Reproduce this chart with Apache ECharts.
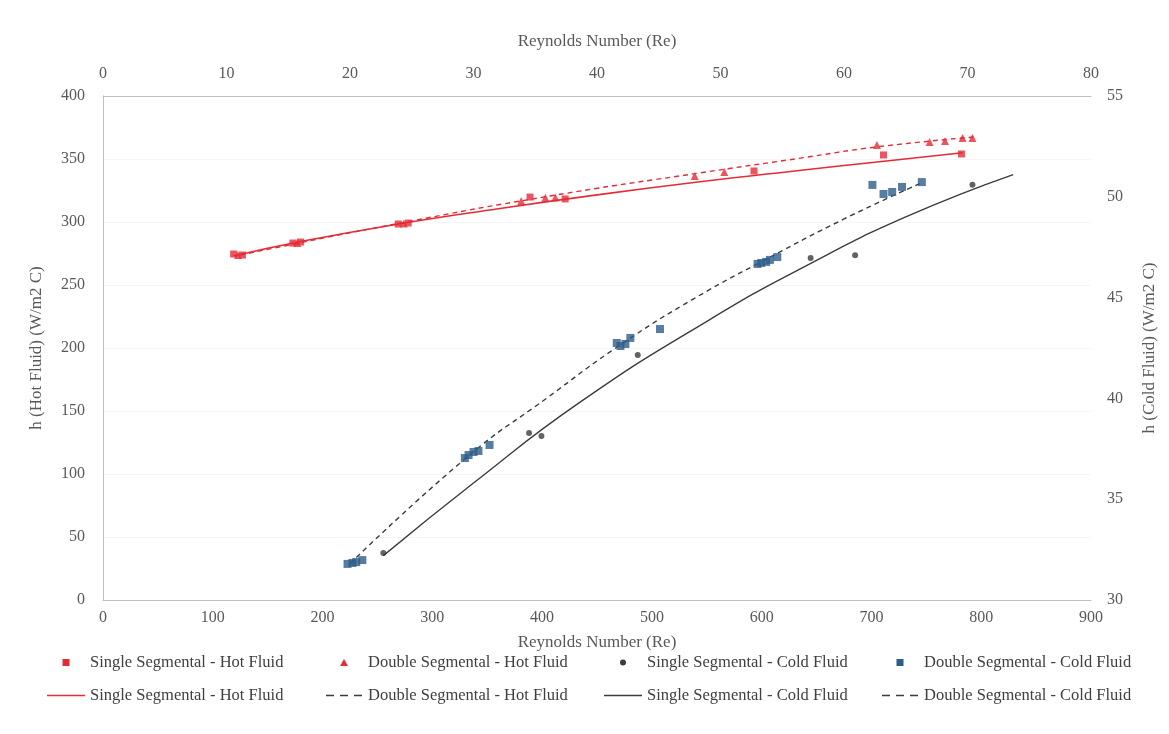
<!DOCTYPE html>
<html><head><meta charset="utf-8">
<script src="https://cdn.jsdelivr.net/npm/echarts@6/dist/echarts.min.js"></script>
<style>html,body{margin:0;padding:0;background:#fff}#c{width:1169px;height:734px}</style>
</head><body><div id="c"></div>
<script>
// ---- Hot fluid (bottom Reynolds axis 0-900, left h axis 0-400) ----
const singleHotRe = [119, 127, 173, 180, 269, 278, 389, 421, 593, 711, 782];
const singleHotH  = [274.6, 273.8, 283.3, 284.1, 298.4, 299.2, 319.8, 318.3, 340.5, 353.2, 354.0];
const doubleHotRe = [123, 177, 274, 381, 403, 412, 539, 566, 705, 753, 767, 783, 792];
const doubleHotH  = [273.8, 283.3, 298.8, 316.7, 319.2, 319.5, 336.5, 339.7, 361.1, 363.5, 364.3, 366.7, 366.7];
// trendlines
const singleHotFitRe = [119, 180, 270, 360, 450, 540, 630, 720, 783];
const singleHotFitH  = [273, 284.5, 298.5, 310.5, 321.5, 331.5, 340.5, 349, 355];
const doubleHotFitRe = [125, 270, 407, 544, 634, 704, 794];
const doubleHotFitH  = [273.8, 299, 320.6, 339, 350.5, 359.5, 367.5];

// ---- Cold fluid (top Reynolds axis 0-80, right h axis 30-55) ----
const singleColdRe = [22.7, 34.5, 35.5, 43.3, 57.3, 60.9, 70.4];
const singleColdH  = [32.33, 38.28, 38.13, 42.15, 46.96, 47.10, 50.60];
const doubleColdRe = [19.8, 20.2, 20.5, 21.0, 29.3, 29.6, 30.0, 30.4, 31.3, 41.6, 41.9, 42.3, 42.7, 45.1, 53.0, 53.3, 53.7, 54.0, 54.6, 62.3, 63.2, 63.9, 64.7, 66.3];
const doubleColdH  = [31.79, 31.84, 31.88, 31.98, 37.04, 37.19, 37.34, 37.39, 37.69, 42.75, 42.60, 42.70, 43.00, 43.44, 46.67, 46.72, 46.77, 46.87, 47.01, 50.59, 50.14, 50.24, 50.49, 50.73];
const singleColdFitRe = [22.7, 30, 38.6, 49.1, 57, 65, 73.7];
const singleColdFitH  = [32.2, 35.8, 39.8, 43.9, 46.6, 49.0, 51.1];
const doubleColdFitRe = [20.0, 29.5, 35.9, 42.0, 48, 54, 60, 66.3];
const doubleColdFitH  = [31.8, 37.1, 40.0, 42.7, 45.0, 47.0, 48.9, 50.7];

// axis ticks
const hotReTicks = {min: 0, max: 900, interval: 100};
const coldReTicks = {min: 0, max: 80, interval: 10};
const hotHTicks = {min: 0, max: 400, interval: 50};
const coldHTicks = {min: 30, max: 55, interval: 5};

const names = {
  sh: 'Single Segmental - Hot Fluid',
  dh: 'Double Segmental - Hot Fluid',
  sc: 'Single Segmental - Cold Fluid',
  dc: 'Double Segmental - Cold Fluid'
};

const zip = (a, b) => a.map((v, i) => [v, b[i]]);
const FONT = 'Liberation Serif';
const TXT = '#595959';
const RED = '#e52b36';
const GRAY = '#3c3c3c';
const BLUE = '#2d5d88';
const AXL = '#bfbfbf';

const chart = echarts.init(document.getElementById('c'), null, {renderer: 'canvas'});

const axisLabel = (m) => ({color: TXT, fontFamily: FONT, fontSize: 16, margin: m});
const nameStyle = {color: TXT, fontFamily: FONT, fontSize: 17};

// legend icons all share a 38x8 frame (tiny corner anchors fix the bounding box)
const A = 'M0,0h0.01v0.01h-0.01zM37.99,7.99h0.01v0.01h-0.01z';
const SQ = 'path://' + A + 'M15.5,0.5h7v7h-7z';
const TRI = 'path://' + A + 'M19,0.5L23,7.5L15,7.5z';
const DOT = 'path://' + A + 'M16,4a3,3 0 1,0 6,0a3,3 0 1,0 -6,0z';
const LINE = 'path://' + A + 'M0,3.3h38v1.4h-38z';
const DASH = 'path://' + A + 'M1,3.3h8v1.4h-8zM15,3.3h8v1.4h-8zM29,3.3h8v1.4h-8z';

function leg(name, icon, color, left, top) {
  return {
    data: [{name: name, icon: icon, itemStyle: {color: color, borderWidth: 0}}],
    left: left, top: top, itemWidth: 38, itemHeight: 8, itemGap: 0, padding: 0,
    selectedMode: false,
    textStyle: {color: '#404040', fontFamily: FONT, fontSize: 16.5}
  };
}
const row1 = 654, row2 = 687;

const option = {
  backgroundColor: '#fff',
  animation: false,
  grid: {left: 103, right: 78, top: 96, bottom: 134, containLabel: false},
  legend: [
    leg(names.sh, SQ, RED, 47, row1),
    leg(names.dh, TRI, RED, 325, row1),
    leg(names.sc, DOT, GRAY, 604, row1),
    leg(names.dc, SQ, BLUE, 881, row1),
    leg(names.sh, LINE, RED, 47, row2),
    leg(names.dh, DASH, GRAY, 325, row2),
    leg(names.sc, LINE, GRAY, 604, row2),
    leg(names.dc, DASH, GRAY, 881, row2)
  ],
  xAxis: [
    Object.assign({type: 'value', position: 'bottom', name: 'Reynolds Number (Re)', nameLocation: 'middle', nameGap: 34,
      nameTextStyle: nameStyle, axisLine: {show: true, lineStyle: {color: AXL}}, axisTick: {show: false},
      splitLine: {show: false}, axisLabel: axisLabel(10)}, hotReTicks),
    Object.assign({type: 'value', position: 'top', name: 'Reynolds Number (Re)', nameLocation: 'middle', nameGap: 46,
      nameTextStyle: nameStyle, axisLine: {show: true, lineStyle: {color: AXL}}, axisTick: {show: false},
      splitLine: {show: false}, axisLabel: axisLabel(14)}, coldReTicks)
  ],
  yAxis: [
    Object.assign({type: 'value', position: 'left', name: 'h (Hot Fluid) (W/m2 C)', nameLocation: 'middle', nameGap: 58, nameRotate: 90,
      nameTextStyle: nameStyle, axisLine: {show: true, lineStyle: {color: AXL}}, axisTick: {show: false},
      splitLine: {show: true, lineStyle: {color: '#f5f5f5'}}, axisLabel: axisLabel(18)}, hotHTicks),
    Object.assign({type: 'value', position: 'right', name: 'h (Cold Fluid) (W/m2 C)', nameLocation: 'middle', nameGap: 50, nameRotate: 90,
      nameTextStyle: nameStyle, axisLine: {show: true, lineStyle: {color: AXL}}, axisTick: {show: false},
      splitLine: {show: false}, axisLabel: axisLabel(16)}, coldHTicks)
  ],
  series: [
    {name: names.sh, type: 'line', xAxisIndex: 0, yAxisIndex: 0, data: zip(singleHotFitRe, singleHotFitH), smooth: true,
      showSymbol: false, lineStyle: {color: RED, width: 1.6}, itemStyle: {color: RED}, z: 2},
    {name: names.dh, type: 'line', xAxisIndex: 0, yAxisIndex: 0, data: zip(doubleHotFitRe, doubleHotFitH), smooth: true,
      showSymbol: false, lineStyle: {color: RED, width: 1.4, type: [5, 4]}, itemStyle: {color: RED}, z: 2},
    {name: names.sc, type: 'line', xAxisIndex: 1, yAxisIndex: 1, data: zip(singleColdFitRe, singleColdFitH), smooth: true,
      showSymbol: false, lineStyle: {color: GRAY, width: 1.4}, itemStyle: {color: GRAY}, z: 2},
    {name: names.dc, type: 'line', xAxisIndex: 1, yAxisIndex: 1, data: zip(doubleColdFitRe, doubleColdFitH), smooth: true,
      showSymbol: false, lineStyle: {color: GRAY, width: 1.4, type: [5, 4]}, itemStyle: {color: GRAY}, z: 2},
    {name: names.sh, type: 'scatter', xAxisIndex: 0, yAxisIndex: 0, data: zip(singleHotRe, singleHotH),
      symbol: 'rect', symbolSize: 7, itemStyle: {color: RED}, z: 3},
    {name: names.dh, type: 'scatter', xAxisIndex: 0, yAxisIndex: 0, data: zip(doubleHotRe, doubleHotH),
      symbol: 'triangle', symbolSize: 8, itemStyle: {color: RED}, z: 3},
    {name: names.sc, type: 'scatter', xAxisIndex: 1, yAxisIndex: 1, data: zip(singleColdRe, singleColdH),
      symbol: 'circle', symbolSize: 6, itemStyle: {color: GRAY}, z: 3},
    {name: names.dc, type: 'scatter', xAxisIndex: 1, yAxisIndex: 1, data: zip(doubleColdRe, doubleColdH),
      symbol: 'rect', symbolSize: 8, itemStyle: {color: BLUE}, z: 3}
  ]
};
chart.setOption(option);
</script>
</body></html>
